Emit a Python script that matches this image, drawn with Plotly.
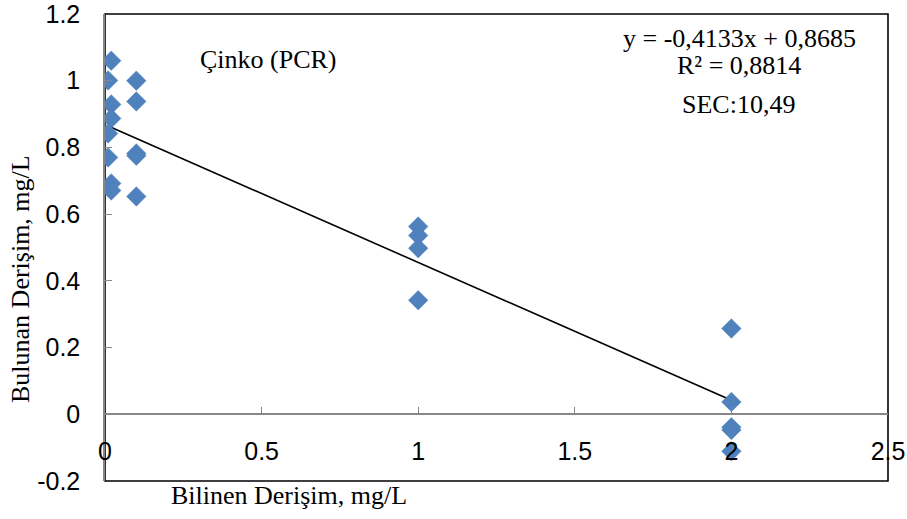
import plotly.graph_objects as go

# Data
known_conc = [0.02, 0.01, 0.02, 0.02, 0.01, 0.01, 0.02, 0.02,
              0.1, 0.1, 0.1, 0.1, 0.1,
              1, 1, 1, 1,
              2, 2, 2, 2, 2]
found_conc = [1.060, 1.001, 0.929, 0.887, 0.842, 0.770, 0.692, 0.671,
              1.000, 0.938, 0.782, 0.775, 0.653,
              0.563, 0.536, 0.498, 0.342,
              0.257, 0.037, -0.039, -0.047, -0.111]

slope = -0.4133
intercept = 0.8685
fit_x = [min(known_conc), max(known_conc)]
fit_y = [slope * v + intercept for v in fit_x]

x_ticks = [0, 0.5, 1, 1.5, 2, 2.5]
x_tick_text = ["0", "0.5", "1", "1.5", "2", "2.5"]
y_ticks = [-0.2, 0, 0.2, 0.4, 0.6, 0.8, 1, 1.2]
y_tick_text = ["-0.2", "0", "0.2", "0.4", "0.6", "0.8", "1", "1.2"]

title_label = "Çinko (PCR)"
eq_label = "y = -0,4133x + 0,8685"
r2_label = "R² = 0,8814"
sec_label = "SEC:10,49"
x_title = "Bilinen Derişim, mg/L"
y_title = "Bulunan Derişim, mg/L"

serif = "Liberation Serif"
sans = "Liberation Sans"
blue = "#4F81BD"
gray = "#878787"

fig = go.Figure()
fig.add_trace(go.Scatter(
    x=fit_x, y=fit_y, mode="lines",
    line=dict(color="black", width=1.6),
    showlegend=False, hoverinfo="skip"))
fig.add_trace(go.Scatter(
    x=known_conc, y=found_conc, mode="markers",
    marker=dict(symbol="diamond", size=15, color=blue,
                line=dict(width=0.5, color=blue)),
    showlegend=False))


def note(text, px, py, size=26, angle=0):
    # px, py: pixel position of the text centre in the 907x519 picture
    return dict(text=text, xref="paper", yref="paper",
                x=(px - 105) / 783, y=(481 - py) / 467,
                xanchor="center", yanchor="middle", textangle=angle,
                showarrow=False,
                font=dict(family=serif, size=size, color="black"))


fig.update_layout(
    width=907, height=519,
    margin=dict(l=105, r=19, t=14, b=38, autoexpand=False),
    paper_bgcolor="white", plot_bgcolor="white",
    xaxis=dict(
        range=[0, 2.5], tickvals=x_ticks, ticktext=x_tick_text,
        showgrid=False, zeroline=False, automargin=False,
        showline=True, linecolor=gray, linewidth=1.5,
        ticks="inside", ticklen=7, tickcolor=gray, tickwidth=1.2,
        anchor="free", position=1/7,
        ticklabelstandoff=15, ticklabeloverflow="allow",
        tickfont=dict(family=sans, size=25, color="black"),
    ),
    yaxis=dict(
        range=[-0.2, 1.2], tickvals=y_ticks, ticktext=y_tick_text,
        showgrid=False, zeroline=False, automargin=False,
        showline=True, linecolor=gray, linewidth=1.5,
        ticks="inside", ticklen=7, tickcolor=gray, tickwidth=1.2,
        ticklabelstandoff=18, ticklabeloverflow="allow",
        tickfont=dict(family=sans, size=25, color="black"),
    ),
    shapes=[dict(type="rect", xref="x domain", yref="y domain",
                 x0=0, x1=1, y0=0, y1=1,
                 line=dict(color="black", width=1.6), layer="below")],
    annotations=[
        note(title_label, 268, 60),
        note(eq_label, 739, 38),
        note(r2_label, 739, 65),
        note(sec_label, 738, 104),
        note(x_title, 289, 495),
        note(y_title, 20, 279, angle=-90),
    ],
)

fig.write_html(
    "out.html",
    config={"displayModeBar": False},
    post_script="document.body.style.margin='0';document.body.style.overflow='hidden';",
)
